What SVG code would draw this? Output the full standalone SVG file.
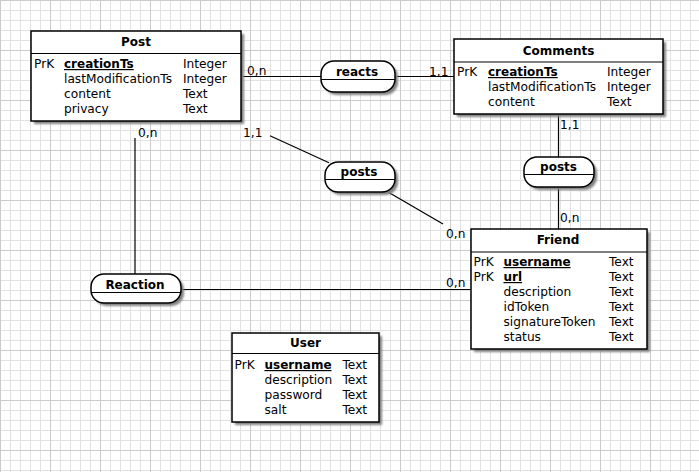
<svg xmlns="http://www.w3.org/2000/svg" width="699" height="472" viewBox="0 0 699 472">
<defs>
<pattern id="minor" width="10" height="10" patternUnits="userSpaceOnUse">
<path d="M0.5 0V10M0 0.5H10" fill="none" stroke="#e2e2e2" stroke-width="1"/>
</pattern>
<pattern id="major" width="50" height="50" patternUnits="userSpaceOnUse">
<path d="M0.5 0V50M0 0.5H50" fill="none" stroke="#cbcbcb" stroke-width="1"/>
</pattern>
<filter id="blur" x="-10%" y="-10%" width="130%" height="140%"><feGaussianBlur stdDeviation="0.8"/></filter>
</defs>
<style>
.box{fill:#fff;stroke:#000;stroke-width:1.5}
.shadow{fill:#808080;filter:url(#blur)}
.sep{stroke:#000;stroke-width:1.2}
.conn{stroke:#000;stroke-width:1.2;fill:none}
text{font-family:"DejaVu Sans","Liberation Sans",sans-serif;font-size:12.2px;fill:#000}
.title{font-weight:bold;font-size:12px;text-anchor:middle}
.pk{font-weight:bold;font-size:12px;text-decoration:underline}
</style>
<rect width="699" height="472" fill="#fff"/>
<rect width="699" height="472" fill="url(#minor)"/>
<rect width="699" height="472" fill="url(#major)"/>

<g id="connectors">
<line class="conn" x1="241" y1="76.5" x2="321" y2="76.5"/>
<line class="conn" x1="395" y1="76.5" x2="454" y2="76.5"/>
<line class="conn" x1="558.5" y1="114" x2="558.5" y2="157"/>
<line class="conn" x1="558.5" y1="187" x2="558.5" y2="229"/>
<line class="conn" x1="270" y1="135.7" x2="329" y2="162.7"/>
<line class="conn" x1="388" y1="192" x2="443" y2="224"/>
<line class="conn" x1="135" y1="138" x2="135" y2="274"/>
<line class="conn" x1="181" y1="289.5" x2="471" y2="289.5"/>
<text x="247" y="75">0,n</text>
<text x="429" y="76">1,1</text>
<text x="560" y="129">1,1</text>
<text x="560" y="222">0,n</text>
<text x="243" y="137">1,1</text>
<text x="446" y="238">0,n</text>
<text x="138" y="137">0,n</text>
<text x="446" y="287">0,n</text>
</g>

<g id="post">
<rect class="shadow" x="34" y="34" width="210" height="90"/>
<rect class="box" x="31" y="31" width="210" height="90"/>
<line class="sep" x1="31" y1="53.5" x2="241" y2="53.5"/>
<text class="title" x="136" y="46">Post</text>
<text x="34" y="68">PrK</text>
<text class="pk" x="64" y="68">creationTs</text>
<text x="183" y="68">Integer</text>
<text x="64" y="83">lastModificationTs</text>
<text x="183" y="83">Integer</text>
<text x="64" y="98">content</text>
<text x="183" y="98">Text</text>
<text x="64" y="113">privacy</text>
<text x="183" y="113">Text</text>
</g>

<g id="comments">
<rect class="shadow" x="457" y="42" width="209" height="75"/>
<rect class="box" x="454" y="39" width="209" height="75"/>
<line class="sep" x1="454" y1="62" x2="663" y2="62"/>
<text class="title" x="558.5" y="54.5">Comments</text>
<text x="457" y="76">PrK</text>
<text class="pk" x="488" y="76">creationTs</text>
<text x="607" y="76">Integer</text>
<text x="488" y="91">lastModificationTs</text>
<text x="607" y="91">Integer</text>
<text x="488" y="106">content</text>
<text x="607" y="106">Text</text>
</g>

<g id="reacts">
<rect class="shadow" x="324" y="64" width="74" height="31" rx="13"/>
<rect class="box" x="321" y="61" width="74" height="31" rx="13"/>
<line class="sep" x1="321" y1="79.5" x2="395" y2="79.5"/>
<text class="title" x="357" y="76">reacts</text>
</g>

<g id="posts-post-friend">
<rect class="shadow" x="328" y="165" width="70" height="30" rx="13"/>
<rect class="box" x="325" y="162" width="70" height="30" rx="13"/>
<line class="sep" x1="325" y1="179.5" x2="395" y2="179.5"/>
<text class="title" x="359" y="176">posts</text>
</g>

<g id="posts-comments-friend">
<rect class="shadow" x="527" y="160" width="70" height="30" rx="13"/>
<rect class="box" x="524" y="157" width="70" height="30" rx="13"/>
<line class="sep" x1="524" y1="174.5" x2="594" y2="174.5"/>
<text class="title" x="558.5" y="171">posts</text>
</g>

<g id="reaction">
<rect class="shadow" x="94" y="277" width="90" height="29" rx="13"/>
<rect class="box" x="91" y="274" width="90" height="29" rx="13"/>
<line class="sep" x1="91" y1="292.5" x2="181" y2="292.5"/>
<text class="title" x="135" y="289">Reaction</text>
</g>

<g id="friend">
<rect class="shadow" x="474" y="232" width="176" height="120"/>
<rect class="box" x="471" y="229" width="176" height="120"/>
<line class="sep" x1="471" y1="252" x2="647" y2="252"/>
<text class="title" x="558" y="244">Friend</text>
<text x="473.5" y="266">PrK</text>
<text class="pk" x="503.5" y="266">username</text>
<text x="609" y="266">Text</text>
<text x="473.5" y="281">PrK</text>
<text class="pk" x="503.5" y="281">url</text>
<text x="609" y="281">Text</text>
<text x="503.5" y="296">description</text>
<text x="609" y="296">Text</text>
<text x="503.5" y="311">idToken</text>
<text x="609" y="311">Text</text>
<text x="503.5" y="326">signatureToken</text>
<text x="609" y="326">Text</text>
<text x="503.5" y="341">status</text>
<text x="609" y="341">Text</text>
</g>

<g id="user">
<rect class="shadow" x="235" y="336" width="147" height="89"/>
<rect class="box" x="232" y="333" width="147" height="89"/>
<line class="sep" x1="232" y1="353.5" x2="379" y2="353.5"/>
<text class="title" x="305.5" y="347">User</text>
<text x="234.5" y="369">PrK</text>
<text class="pk" x="264.5" y="369">username</text>
<text x="342.5" y="369">Text</text>
<text x="264.5" y="384">description</text>
<text x="342.5" y="384">Text</text>
<text x="264.5" y="399">password</text>
<text x="342.5" y="399">Text</text>
<text x="264.5" y="414">salt</text>
<text x="342.5" y="414">Text</text>
</g>
</svg>
